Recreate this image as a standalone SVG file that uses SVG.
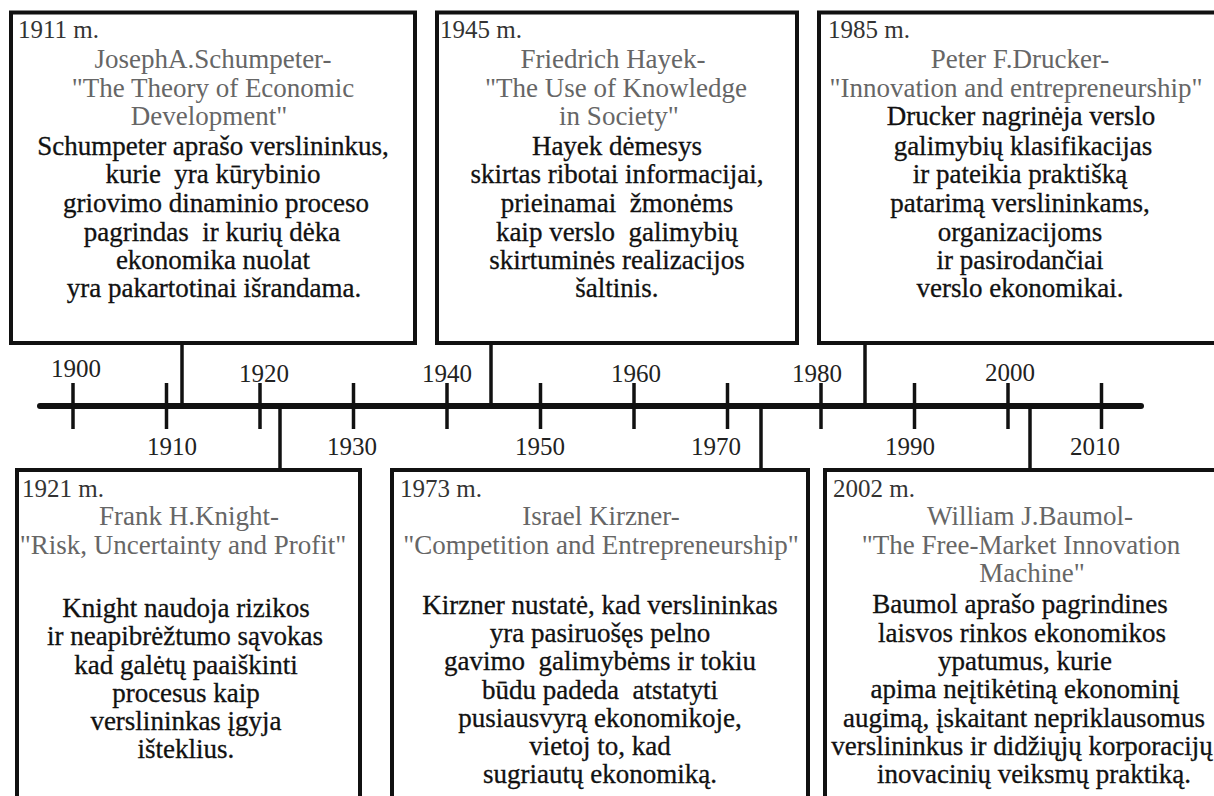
<svg xmlns="http://www.w3.org/2000/svg" width="1214" height="796" viewBox="0 0 1214 796">
<style>
  .box { fill: #ffffff; stroke: #111; stroke-width: 4; }
  .line { stroke: #111; stroke-width: 3.5; fill: none; }
  .axis { stroke: #111; stroke-width: 6; stroke-linecap: round; fill: none; }
  .tick { stroke: #111; stroke-width: 3.5; }
  text { font-family: "Liberation Serif", "Times New Roman", serif; white-space: pre; }
  .yr { font-size: 25px; fill: #333; }
  .ttl { font-size: 27px; fill: #666; text-anchor: middle; }
  .body { font-size: 27px; fill: #111; stroke: #111; stroke-width: 0.3; text-anchor: middle; }
  .lbl { font-size: 25px; fill: #222; text-anchor: middle; }
</style>
<rect width="1214" height="796" fill="#ffffff"/>

<g id="connectors">
  <line class="axis" x1="40" y1="406" x2="1141" y2="406"/>
  <g id="ticks">
    <line class="tick" x1="73" y1="383" x2="73" y2="429"/>
    <line class="tick" x1="166.5" y1="383" x2="166.5" y2="429"/>
    <line class="tick" x1="260" y1="383" x2="260" y2="429"/>
    <line class="tick" x1="353.5" y1="383" x2="353.5" y2="429"/>
    <line class="tick" x1="447" y1="383" x2="447" y2="429"/>
    <line class="tick" x1="540.5" y1="383" x2="540.5" y2="429"/>
    <line class="tick" x1="634" y1="383" x2="634" y2="429"/>
    <line class="tick" x1="727.5" y1="383" x2="727.5" y2="429"/>
    <line class="tick" x1="821" y1="383" x2="821" y2="429"/>
    <line class="tick" x1="914.5" y1="383" x2="914.5" y2="429"/>
    <line class="tick" x1="1008" y1="383" x2="1008" y2="429"/>
    <line class="tick" x1="1101.5" y1="383" x2="1101.5" y2="429"/>
  </g>
  <line class="line" x1="182" y1="343" x2="182" y2="406"/>
  <line class="line" x1="491" y1="343" x2="491" y2="406"/>
  <line class="line" x1="865" y1="343" x2="865" y2="406"/>
  <line class="line" x1="280" y1="406" x2="280" y2="470"/>
  <line class="line" x1="761" y1="406" x2="761" y2="470"/>
  <line class="line" x1="1030" y1="406" x2="1030" y2="470"/>
</g>

<g id="axis-labels">
  <text class="lbl" x="76" y="377">1900</text>
  <text class="lbl" x="264" y="382">1920</text>
  <text class="lbl" x="447" y="382">1940</text>
  <text class="lbl" x="636" y="382">1960</text>
  <text class="lbl" x="817" y="382">1980</text>
  <text class="lbl" x="1010" y="381">2000</text>
  <text class="lbl" x="172" y="455">1910</text>
  <text class="lbl" x="352" y="455">1930</text>
  <text class="lbl" x="540" y="455">1950</text>
  <text class="lbl" x="716" y="455">1970</text>
  <text class="lbl" x="910" y="455">1990</text>
  <text class="lbl" x="1095" y="455">2010</text>
</g>

<g id="node-schumpeter">
  <rect class="box" x="11" y="12.5" width="404" height="330.5"/>
  <text class="yr" x="18" y="38">1911 m.</text>
  <text class="ttl" x="213" y="68">JosephA.Schumpeter-</text>
  <text class="ttl" x="213" y="97">"The Theory of Economic</text>
  <text class="ttl" x="209" y="125">Development"</text>
  <text class="body" x="213" y="155">Schumpeter aprašo verslininkus,</text>
  <text class="body" x="213" y="183">kurie  yra kūrybinio</text>
  <text class="body" x="216" y="212">griovimo dinaminio proceso</text>
  <text class="body" x="212" y="241">pagrindas  ir kurių dėka</text>
  <text class="body" x="213" y="269">ekonomika nuolat</text>
  <text class="body" x="214" y="297">yra pakartotinai išrandama.</text>
</g>

<g id="node-hayek">
  <rect class="box" x="437" y="12.5" width="360" height="330.5"/>
  <text class="yr" x="440" y="38">1945 m.</text>
  <text class="ttl" x="613" y="68">Friedrich Hayek-</text>
  <text class="ttl" x="616" y="97">"The Use of Knowledge</text>
  <text class="ttl" x="619" y="125">in Society"</text>
  <text class="body" x="617" y="155">Hayek dėmesys</text>
  <text class="body" x="617" y="183">skirtas ribotai informacijai,</text>
  <text class="body" x="617" y="212">prieinamai  žmonėms</text>
  <text class="body" x="617" y="241">kaip verslo  galimybių</text>
  <text class="body" x="617" y="269">skirtuminės realizacijos</text>
  <text class="body" x="617" y="297">šaltinis.</text>
</g>

<g id="node-drucker">
  <rect class="box" x="819" y="12.5" width="404" height="330.5"/>
  <text class="yr" x="828" y="38">1985 m.</text>
  <text class="ttl" x="1020" y="68">Peter F.Drucker-</text>
  <text class="ttl" x="1016" y="97">"Innovation and entrepreneurship"</text>
  <text class="body" x="1021" y="125">Drucker nagrinėja verslo</text>
  <text class="body" x="1023" y="155">galimybių klasifikacijas</text>
  <text class="body" x="1020" y="183">ir pateikia praktišką</text>
  <text class="body" x="1020" y="212">patarimą verslininkams,</text>
  <text class="body" x="1020" y="241">organizacijoms</text>
  <text class="body" x="1020" y="269">ir pasirodančiai</text>
  <text class="body" x="1020" y="297">verslo ekonomikai.</text>
</g>

<g id="node-knight">
  <rect class="box" x="17" y="470" width="343" height="340"/>
  <text class="yr" x="22" y="497">1921 m.</text>
  <text class="ttl" x="189" y="525">Frank H.Knight-</text>
  <text class="ttl" x="183" y="554">"Risk, Uncertainty and Profit"</text>
  <text class="body" x="186" y="617">Knight naudoja rizikos</text>
  <text class="body" x="185" y="645">ir neapibrėžtumo sąvokas</text>
  <text class="body" x="186" y="674">kad galėtų paaiškinti</text>
  <text class="body" x="186" y="702">procesus kaip</text>
  <text class="body" x="186" y="730">verslininkas įgyja</text>
  <text class="body" x="186" y="758">išteklius.</text>
</g>

<g id="node-kirzner">
  <rect class="box" x="392" y="470" width="416" height="340"/>
  <text class="yr" x="400" y="497">1973 m.</text>
  <text class="ttl" x="601" y="525">Israel Kirzner-</text>
  <text class="ttl" x="601" y="554">"Competition and Entrepreneurship"</text>
  <text class="body" x="600" y="614">Kirzner nustatė, kad verslininkas</text>
  <text class="body" x="600" y="642">yra pasiruošęs pelno</text>
  <text class="body" x="600" y="670">gavimo  galimybėms ir tokiu</text>
  <text class="body" x="600" y="699">būdu padeda  atstatyti</text>
  <text class="body" x="600" y="727">pusiausvyrą ekonomikoje,</text>
  <text class="body" x="600" y="755">vietoj to, kad</text>
  <text class="body" x="600" y="783">sugriautų ekonomiką.</text>
</g>

<g id="node-baumol">
  <rect class="box" x="825" y="470" width="400" height="340"/>
  <text class="yr" x="833" y="497">2002 m.</text>
  <text class="ttl" x="1030" y="525">William J.Baumol-</text>
  <text class="ttl" x="1021" y="554">"The Free-Market Innovation</text>
  <text class="ttl" x="1032" y="582">Machine"</text>
  <text class="body" x="1020" y="613">Baumol aprašo pagrindines</text>
  <text class="body" x="1022" y="642">laisvos rinkos ekonomikos</text>
  <text class="body" x="1025" y="670">ypatumus, kurie</text>
  <text class="body" x="1025" y="698">apima neįtikėtiną ekonominį</text>
  <text class="body" x="1024" y="727">augimą, įskaitant nepriklausomus</text>
  <text class="body" x="1022" y="755">verslininkus ir didžiųjų korporacijų</text>
  <text class="body" x="1034" y="783">inovacinių veiksmų praktiką.</text>
</g>
</svg>
